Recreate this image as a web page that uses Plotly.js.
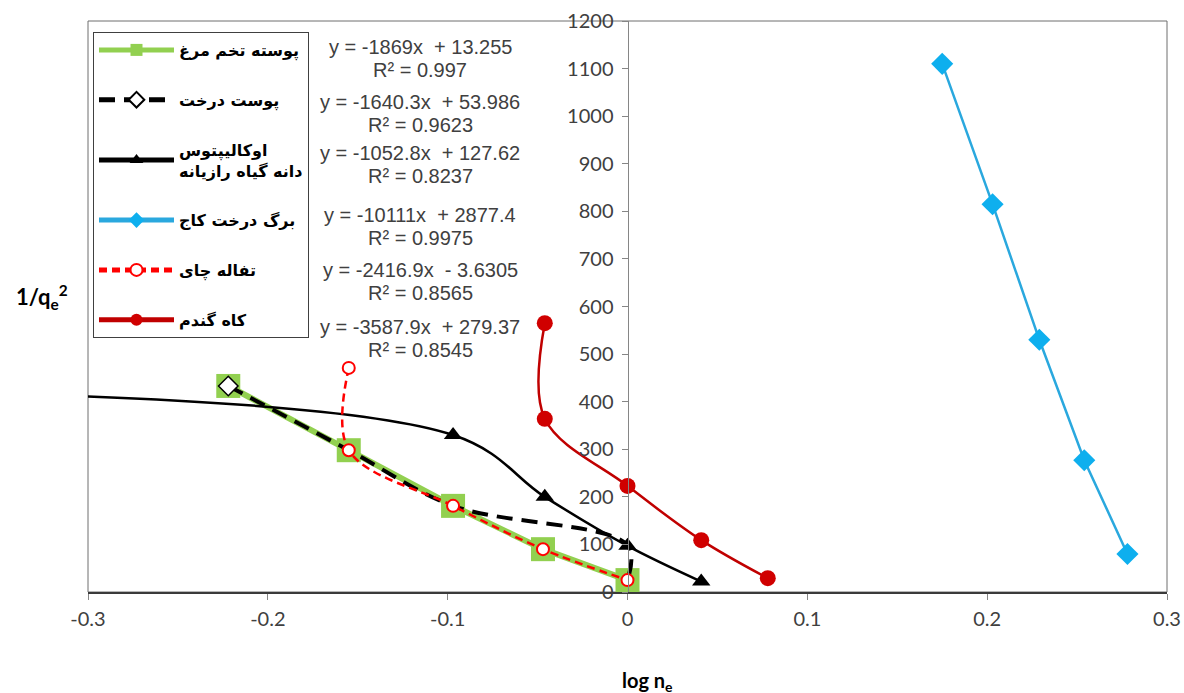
<!DOCTYPE html>
<html><head><meta charset="utf-8">
<script src="https://cdn.plot.ly/plotly-3.0.1.min.js"></script>
<style>html,body{margin:0;padding:0;background:#fff}#chart{width:1184px;height:693px}</style>
</head><body><div id="chart"></div>
<script>
// ---- data ----
const seriesNames = ['پوسته تخم مرغ', 'پوست درخت', 'اوکالیپتوس<br>دانه گیاه رازیانه', 'برگ درخت کاج', 'تفاله چای', 'کاه گندم'];
const eggshellX = [-0.222, -0.155, -0.097, -0.047, 0];
const eggshellY = [433, 298, 181, 90, 25];
const barkX = [-0.222, -0.155, -0.097, 0, 0];
const barkY = [433, 298, 181, 98, 25];
const eucalyptusX = [-0.6, -0.097, -0.046, 0, 0.041];
const eucalyptusY = [428, 330, 200, 97, 22];
const pineX = [0.175, 0.203, 0.229, 0.254, 0.278];
const pineY = [1110, 815, 530, 277, 80];
const teaX = [-0.155, -0.155, -0.097, -0.047, 0];
const teaY = [471, 298, 181, 90, 25];
const wheatX = [-0.046, -0.046, 0, 0.041, 0.078];
const wheatY = [565, 364, 223, 109, 29];
const equations = ['y = -1869x  + 13.255', 'y = -1640.3x  + 53.986', 'y = -1052.8x  + 127.62', 'y = -10111x  + 2877.4', 'y = -2416.9x  - 3.6305', 'y = -3587.9x  + 279.37'];
const rSquared = ['R² = 0.997', 'R² = 0.9623', 'R² = 0.8237', 'R² = 0.9975', 'R² = 0.8565', 'R² = 0.8545'];
const xTickVals = [-0.3, -0.2, -0.1, 0, 0.1, 0.2, 0.3];
const xTickText = ['-0.3', '-0.2', '-0.1', '0', '0.1', '0.2', '0.3'];
const yTickVals = [0, 100, 200, 300, 400, 500, 600, 700, 800, 900, 1000, 1100, 1200];

// ---- traces ----
const base = {type: 'scatter', mode: 'lines+markers', hoverinfo: 'skip', cliponaxis: true};
// bark markers: only the first point's diamond is visible in the reference (others are covered)
const barkMarkerSizes = barkX.map((v, i) => (i === 0 ? 15 : 0));
const traces = [
  Object.assign({}, base, {x: eggshellX, y: eggshellY, name: seriesNames[0], legendgroup: 'g0',
    line: {color: '#92D050', width: 6},
    marker: {symbol: 'square', size: 24, color: '#92D050'}}),
  Object.assign({}, base, {x: barkX, y: barkY, name: seriesNames[1], legendgroup: 'g1',
    line: {color: '#000000', width: 4, dash: '16px,9px', shape: 'spline'},
    marker: {symbol: 'diamond', size: barkMarkerSizes, opacity: 1, color: '#ffffff', line: {color: '#000000', width: 1.5}}}),
  Object.assign({}, base, {x: eucalyptusX, y: eucalyptusY, name: seriesNames[2], legendgroup: 'g2',
    line: {color: '#000000', width: 2.5, shape: 'spline'},
    marker: {symbol: 'triangle-up', size: 16, color: '#000000'}}),
  Object.assign({}, base, {x: pineX, y: pineY, name: seriesNames[3], legendgroup: 'g3',
    line: {color: '#2AA8DE', width: 2.5},
    marker: {symbol: 'diamond', size: 17, color: '#0EAFEE'}}),
  Object.assign({}, base, {x: teaX, y: teaY, name: seriesNames[4], legendgroup: 'g4',
    line: {color: '#FF0000', width: 2.5, dash: '8px,5px', shape: 'spline'},
    marker: {symbol: 'circle', size: 12, color: '#ffffff', line: {color: '#FF0000', width: 2}}}),
  Object.assign({}, base, {x: wheatX, y: wheatY, name: seriesNames[5], legendgroup: 'g5',
    line: {color: '#C00000', width: 2.5, shape: 'spline'},
    marker: {symbol: 'circle', size: 16, color: '#D00000'}})
];

// ---- annotations ----
const plotL = 88, plotR = 1167, plotT = 21, plotB = 592;
const pxX = px => (px - plotL) / (plotR - plotL);
const pxY = py => (plotB - py) / (plotB - plotT);
const eqFont = {family: 'Liberation Sans, Arial, sans-serif', size: 20, color: '#404040'};
const annotations = [];
const eqTop = [47, 102, 153, 215, 270, 327];
equations.forEach((t, i) => {
  annotations.push({xref: 'paper', yref: 'paper', x: pxX(420), y: pxY(eqTop[i]), text: t, showarrow: false,
    xanchor: 'center', yanchor: 'middle', font: eqFont});
  annotations.push({xref: 'paper', yref: 'paper', x: pxX(420), y: pxY(eqTop[i] + 23), text: rSquared[i], showarrow: false,
    xanchor: 'center', yanchor: 'middle', font: eqFont});
});
annotations.push({xref: 'paper', yref: 'paper', x: pxX(42), y: pxY(297), showarrow: false, xanchor: 'center', yanchor: 'middle',
  text: '<b>1/q<sub>e</sub><sup>2</sup></b>', font: {family: 'Lato, Carlito, sans-serif', size: 22, color: '#000'}});
annotations.push({xref: 'paper', yref: 'paper', x: pxX(647), y: pxY(681), showarrow: false, xanchor: 'center', yanchor: 'middle',
  text: '<b>log n<sub>e</sub></b>', font: {family: 'Lato, Carlito, sans-serif', size: 20, color: '#000'}});

const tickFont = {family: 'Lato, Carlito, sans-serif', size: 20, color: '#404040'};
const layout = {
  width: 1184, height: 693,
  margin: {l: plotL, r: 1184 - plotR, t: plotT, b: 693 - plotB, pad: 0},
  paper_bgcolor: '#ffffff', plot_bgcolor: '#ffffff',
  showlegend: true,
  xaxis: {range: [-0.3, 0.3], tickvals: xTickVals, ticktext: xTickText, showgrid: false, zeroline: false,
    showline: true, linecolor: '#3a3a3a', linewidth: 1.5, ticks: 'outside', ticklen: 6, tickcolor: '#868686',
    tickfont: tickFont, ticklabelstandoff: 2, fixedrange: true},
  yaxis: {range: [0, 1200], tickvals: yTickVals, showgrid: false, zeroline: false, anchor: 'free', position: 0.5,
    showline: true, linecolor: '#868686', linewidth: 1, ticks: 'outside', ticklen: 6, tickcolor: '#868686',
    tickfont: tickFont, ticklabelstandoff: 4, fixedrange: true},
  legend: {x: pxX(93), y: pxY(32), xanchor: 'left', yanchor: 'top', bgcolor: '#ffffff', bordercolor: '#404040', borderwidth: 1,
    font: {family: 'DejaVu Sans, sans-serif', size: 16, color: '#000', weight: 'bold'}, traceorder: 'grouped', tracegroupgap: 26,
    itemsizing: 'constant', itemwidth: 75},
  shapes: [{type: 'rect', xref: 'paper', yref: 'paper', x0: 0, x1: 1, y0: 0, y1: 1, line: {color: '#6e6e6e', width: 1}, layer: 'below'}],
  annotations: annotations
};
Plotly.newPlot('chart', traces, layout, {displayModeBar: false, staticPlot: true});
</script>
</body></html>
